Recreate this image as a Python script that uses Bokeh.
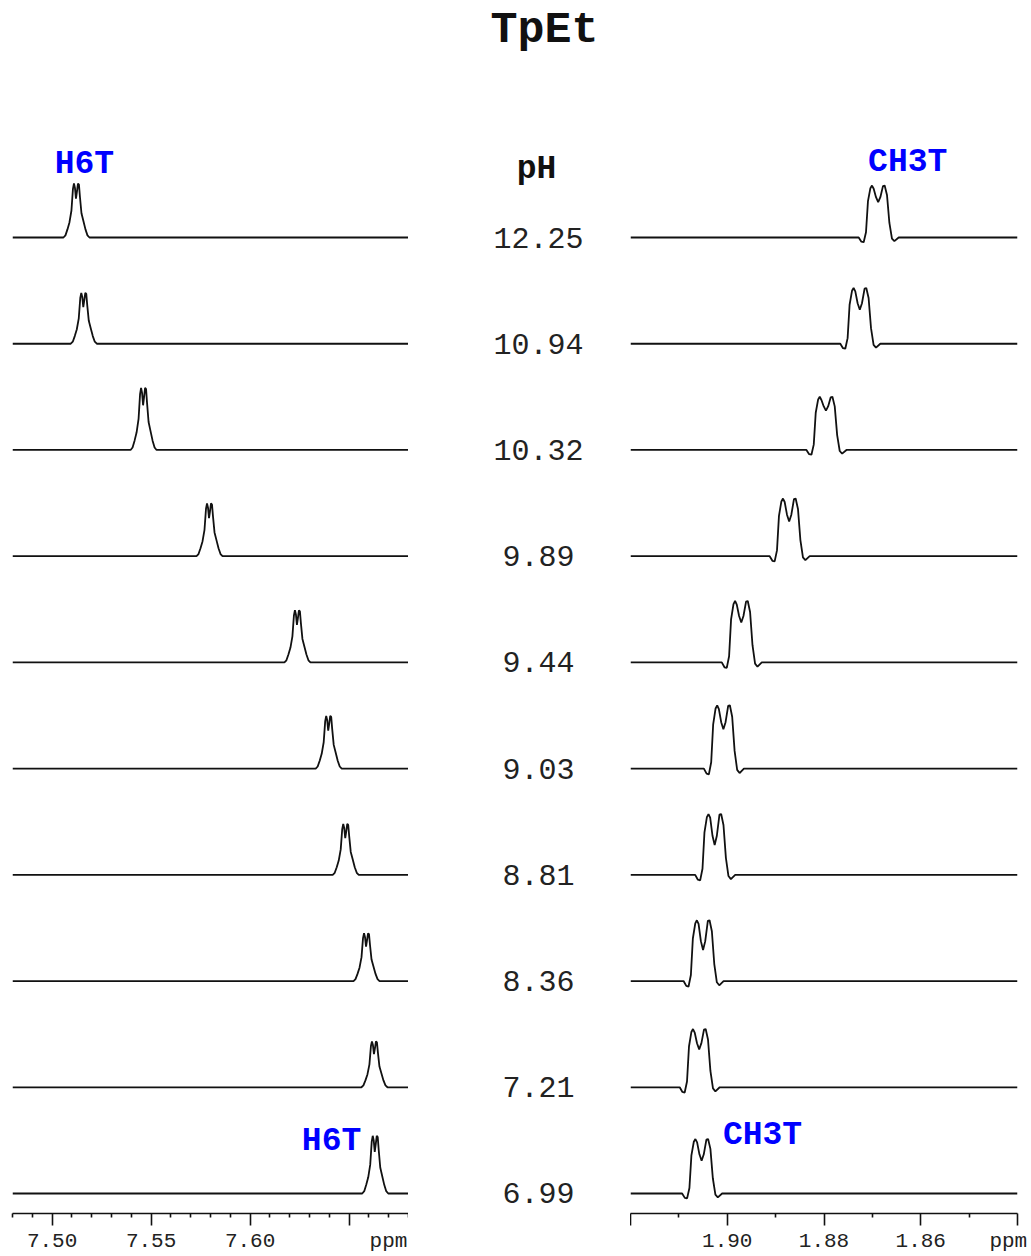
import numpy as np
from bokeh.plotting import figure
from bokeh.layouts import row
from bokeh.models import Range1d, FixedTicker, LinearAxis, CustomLabelingPolicy
from bokeh.core.properties import value
from bokeh.embed import file_html
from bokeh.resources import INLINE

# ---------------- data, top spectrum first ----------------
ph_labels = ["12.25", "10.94", "10.32", "9.89", "9.44", "9.03", "8.81", "8.36", "7.21", "6.99"]

h6t_shift = [7.5123, 7.5160, 7.5462, 7.5795, 7.6239, 7.6397, 7.6483, 7.6588, 7.6628, 7.6632]
h6t_intensity = [0.87, 0.82, 1.00, 0.85, 0.84, 0.85, 0.82, 0.77, 0.74, 0.93]

ch3t_shift = [1.8688, 1.8726, 1.8796, 1.8872, 1.8971, 1.9008, 1.9026, 1.9050, 1.9058, 1.9053]
ch3t_intensity = [0.82, 0.88, 0.84, 0.91, 0.97, 1.00, 0.96, 0.96, 0.92, 0.86]
ch3t_dip = [0.68, 0.61, 0.74, 0.60, 0.65, 0.62, 0.49, 0.51, 0.65, 0.60]

# line-shape profiles: offset (ppm x 1000) and relative intensity
h6t_profile_off = [-6.57, -5.56, -4.55, -3.54, -2.53, -1.77, -1.26, -0.76, -0.25,
                   0.25, 0.76, 1.26, 1.77, 2.53, 3.54, 4.55, 5.56, 6.57]
h6t_profile_int = [0.0, 0.04, 0.15, 0.28, 0.50, 0.90, 1.00, 0.92, 0.72,
                   0.85, 1.00, 0.98, 0.75, 0.45, 0.30, 0.15, 0.04, 0.0]

ch3t_profile_off = [-4.03, -3.47, -3.00, -2.52, -2.11, -1.61, -1.28, -0.93, -0.45, 0.0,
                    0.45, 0.99, 1.34, 1.82, 2.32, 2.85, 3.35, 4.24]
ch3t_profile_int = [0.0, -0.08, -0.09, 0.10, 0.70, 0.95, 1.00, 0.94, 0.70, 0.61,
                    0.73, 0.99, 1.00, 0.82, 0.28, -0.02, -0.07, 0.0]

# tick marks
left_ticks = [7.50, 7.55, 7.60, 7.65]
left_minor = [7.48, 7.49, 7.51, 7.52, 7.53, 7.54, 7.56, 7.57, 7.58, 7.59,
              7.61, 7.62, 7.63, 7.64, 7.66, 7.67, 7.68]
right_ticks = [1.92, 1.90, 1.88, 1.86, 1.84]
right_minor = [1.91, 1.89, 1.87, 1.85]
# tick labels (the unit label sits near the right end of each scale)
left_label_pos = [7.50, 7.55, 7.60, 7.6699]
left_label_text = ["7.50", "7.55", "7.60", "ppm"]
right_label_pos = [1.90, 1.88, 1.86, 1.8419]
right_label_text = ["1.90", "1.88", "1.86", "ppm"]

# ---------------- layout constants ----------------
PPU = 106.22          # pixels per stack unit
N = len(ph_labels)
FONT = value("Liberation Mono")
LINE = "#111111"
BLUE = "#0000ff"
FRAME_H = 1213
BOTTOM = 38

Y0 = -20 / PPU
Y1 = (N - 1) + 237 / PPU

NO_LABELS = CustomLabelingPolicy(code="""
for (let i = 0; i < indices.size; i++) { indices.set(i, false) }
return indices
""")


def style_axes(p, ticks, minor, label_pos, label_text):
    ax = p.xaxis[0]
    ax.ticker = FixedTicker(ticks=ticks, minor_ticks=minor)
    ax.major_label_policy = NO_LABELS
    ax.major_label_text_font_size = "0px"
    ax.major_label_standoff = 0
    ax.axis_line_color = "#111111"
    ax.axis_line_width = 1.6
    ax.major_tick_line_color = "#111111"
    ax.major_tick_line_width = 1.6
    ax.minor_tick_line_color = "#111111"
    ax.minor_tick_line_width = 1.6
    ax.major_tick_out = 12
    ax.major_tick_in = 0
    ax.minor_tick_out = 4
    ax.minor_tick_in = 0

    lab = LinearAxis(ticker=FixedTicker(ticks=label_pos, minor_ticks=[]))
    lab.major_label_overrides = {t: l for t, l in zip(label_pos, label_text)}
    lab.axis_line_color = None
    lab.major_tick_line_color = None
    lab.minor_tick_line_color = None
    lab.major_tick_out = 0
    lab.major_tick_in = 0
    lab.minor_tick_out = 0
    lab.minor_tick_in = 0
    lab.major_label_standoff = 4
    lab.major_label_text_font = "Liberation Mono"
    lab.major_label_text_font_size = "21px"
    lab.major_label_text_color = "#222222"
    p.add_layout(lab, "below")


def make_fig(xr, fw, mbl, mbr, axis):
    p = figure(frame_width=fw, frame_height=FRAME_H, x_range=xr,
               y_range=Range1d(Y0, Y1), y_axis_location=None,
               x_axis_location="below" if axis else None,
               min_border_left=mbl, min_border_right=mbr, min_border_top=0,
               min_border_bottom=BOTTOM, toolbar_location=None,
               output_backend="svg")
    p.outline_line_color = None
    p.grid.visible = False
    p.background_fill_color = "white"
    return p


# ---------------- left panel: H6T ----------------
pl = make_fig(Range1d(7.48, 7.68), 396, 12, 0, True)
for i in range(N):
    base = (N - 1) - i
    h = 0.584 * h6t_intensity[i]
    xs = [7.48] + [h6t_shift[i] + o / 1000 for o in h6t_profile_off] + [7.68]
    ys = [base] + [base + h * v for v in h6t_profile_int] + [base]
    pl.line(xs, ys, line_color=LINE, line_width=1.8)
style_axes(pl, left_ticks, left_minor, left_label_pos, left_label_text)
pl.text(x=[h6t_shift[0] + 8 / 1980], y=[(N - 1) + 73 / PPU], text=["H6T"],
        text_font=FONT, text_font_style="bold", text_font_size="33px",
        text_color=BLUE, text_align="center", text_baseline="middle")
pl.text(x=[h6t_shift[-1] - 14 / 1980], y=[52 / PPU], text=["H6T"],
        text_font=FONT, text_font_style="bold", text_font_size="33px",
        text_color=BLUE, text_align="right", text_baseline="middle")

# ---------------- middle: title and pH values ----------------
pm = make_fig(Range1d(0, 1), 222, 0, 0, False)
pm.text(x=[0.613], y=[(N - 1) + 207 / PPU], text=["TpEt"], text_font=FONT,
        text_font_style="bold", text_font_size="45px", text_color="#111111",
        text_align="center", text_baseline="middle")
pm.text(x=[0.577], y=[(N - 1) + 68 / PPU], text=["pH"], text_font=FONT,
        text_font_style="bold", text_font_size="33px", text_color="#111111",
        text_align="center", text_baseline="middle")
pm.text(x=[0.586] * N, y=[(N - 1) - i for i in range(N)], text=ph_labels,
        text_font=FONT, text_font_size="30px", text_color="#222222",
        text_align="center", text_baseline="middle")

# ---------------- right panel: CH3T ----------------
pr = make_fig(Range1d(1.92, 1.84), 387, 0, 14, True)
for i in range(N):
    base = (N - 1) - i
    h = 0.596 * ch3t_intensity[i]
    d = ch3t_dip[i]
    prof = list(ch3t_profile_int)
    c = ch3t_profile_off.index(0.0)
    prof[c] = d
    prof[c - 1] = d + 0.3 * (1 - d)
    prof[c + 1] = d + 0.3 * (1 - d)
    xs = [1.92] + [ch3t_shift[i] - o / 1000 for o in ch3t_profile_off] + [1.84]
    ys = [base] + [base + h * v for v in prof] + [base]
    pr.line(xs, ys, line_color=LINE, line_width=1.8)
style_axes(pr, right_ticks, right_minor, right_label_pos, right_label_text)
pr.text(x=[1.8627], y=[(N - 1) + 75 / PPU], text=["CH3T"],
        text_font=FONT, text_font_style="bold", text_font_size="33px",
        text_color=BLUE, text_align="center", text_baseline="middle")
pr.text(x=[1.8927], y=[58 / PPU], text=["CH3T"],
        text_font=FONT, text_font_style="bold", text_font_size="33px",
        text_color=BLUE, text_align="center", text_baseline="middle")

layout = row(pl, pm, pr)
open("out.html", "w").write(file_html(layout, INLINE))
